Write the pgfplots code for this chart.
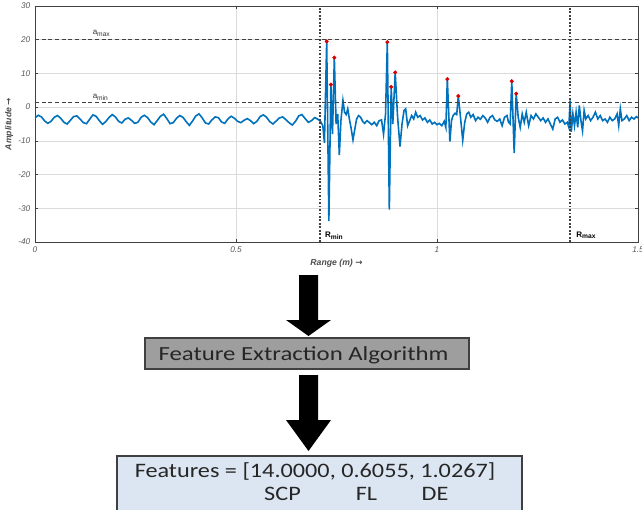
\documentclass[border=0pt]{standalone}
\usepackage{fontspec}
\setmainfont{Liberation Sans}
\newfontfamily\carlito{Carlito}
\newfontfamily\dejavu{DejaVu Sans}
\usepackage{graphicx}
\usepackage{pgfplots}
\usepackage{pgfplotstable}
\pgfplotsset{compat=1.18}
\definecolor{mblue}{RGB}{0,114,189}
\definecolor{boxgray}{RGB}{158,158,158}
\definecolor{boxblue}{RGB}{220,230,242}
\definecolor{edge}{RGB}{64,64,64}

\pgfplotstableread{
x y
0.000 -3.2
0.008 -2.4
0.016 -2.9
0.024 -4.1
0.032 -4.8
0.040 -4.2
0.048 -3.0
0.056 -2.5
0.064 -3.3
0.072 -4.5
0.080 -5.0
0.088 -3.9
0.096 -2.8
0.104 -2.6
0.112 -3.5
0.120 -4.6
0.128 -4.9
0.136 -3.6
0.144 -2.3
0.152 -2.7
0.160 -4.0
0.168 -5.1
0.176 -4.3
0.184 -3.1
0.192 -2.2
0.200 -2.9
0.208 -4.2
0.216 -4.7
0.224 -3.6
0.232 -3.2
0.240 -3.9
0.248 -4.8
0.256 -4.5
0.264 -3.0
0.272 -2.4
0.280 -3.1
0.288 -4.4
0.296 -5.2
0.304 -4.0
0.312 -2.7
0.320 -2.1
0.328 -3.4
0.336 -4.9
0.344 -4.6
0.352 -3.3
0.360 -2.5
0.368 -3.0
0.376 -4.3
0.384 -5.4
0.392 -4.1
0.400 -2.6
0.408 -2.0
0.416 -3.2
0.424 -4.7
0.432 -5.0
0.440 -3.8
0.448 -2.9
0.456 -3.1
0.464 -4.4
0.472 -4.8
0.480 -3.5
0.488 -2.7
0.496 -3.3
0.504 -4.2
0.512 -4.6
0.520 -3.9
0.528 -3.4
0.536 -4.0
0.544 -4.9
0.552 -4.2
0.560 -2.8
0.568 -2.3
0.576 -3.0
0.584 -4.3
0.592 -5.0
0.600 -4.1
0.608 -3.2
0.616 -2.9
0.624 -3.7
0.632 -4.6
0.640 -5.3
0.648 -4.2
0.656 -2.6
0.664 -2.2
0.672 -3.4
0.680 -4.5
0.688 -4.0
0.696 -3.1
0.704 -3.6
0.710 -4.2
0.716 -5.5
0.720 -10.6
0.7256 19.5
0.731 -33.8
0.736 6.7
0.740 -8.0
0.7446 14.7
0.749 -5.0
0.753 -2.0
0.757 -14.2
0.761 -4.0
0.766 2.0
0.770 -1.5
0.774 -2.2
0.778 -0.5
0.782 -3.5
0.786 -6.0
0.791 -9.7
0.796 -6.2
0.800 -3.5
0.805 -2.5
0.810 -3.0
0.815 -4.2
0.820 -4.8
0.826 -4.0
0.832 -4.6
0.838 -5.2
0.844 -4.5
0.850 -5.5
0.856 -4.0
0.862 -3.8
0.867 -8.0
0.872 -2.0
0.8764 19.3
0.8814 -30.4
0.886 6.0
0.890 -5.0
0.896 10.3
0.902 -3.0
0.908 -11.7
0.913 -5.0
0.918 -1.0
0.922 -0.5
0.927 -5.5
0.932 -4.0
0.937 -2.5
0.942 -3.5
0.947 -1.5
0.952 -3.0
0.958 -2.5
0.964 -3.8
0.970 -3.2
0.976 -4.5
0.982 -3.8
0.988 -5.0
0.994 -4.5
1.000 -5.2
1.006 -4.8
1.012 -5.5
1.018 -4.2
1.022 -6.0
1.0257 8.3
1.032 -10.2
1.036 -4.0
1.040 -2.5
1.045 -1.8
1.049 -2.2
1.053 3.3
1.058 -2.5
1.064 -9.8
1.069 -4.5
1.074 -2.0
1.079 -1.5
1.084 -3.0
1.090 -2.2
1.096 -4.0
1.102 -3.0
1.108 -3.6
1.114 -2.5
1.120 -3.2
1.126 -4.5
1.132 -3.0
1.138 -2.5
1.144 -3.8
1.150 -4.2
1.156 -3.5
1.162 -5.5
1.168 -3.0
1.174 -2.5
1.178 -4.5
1.182 -5.0
1.186 7.7
1.192 -13.6
1.197 4.0
1.202 -3.0
1.207 -6.0
1.212 -2.0
1.217 -4.5
1.222 -1.5
1.228 -5.5
1.234 -2.5
1.240 -3.5
1.246 -2.0
1.252 -3.0
1.258 -4.0
1.264 -3.2
1.270 -4.5
1.276 -3.5
1.282 -5.0
1.288 -6.5
1.294 -3.5
1.300 -3.0
1.306 -4.5
1.312 -3.8
1.318 -5.0
1.324 -4.5
1.328 -6.0
1.331 2.0
1.334 -7.3
1.338 -2.0
1.342 -5.5
1.346 -1.5
1.350 -6.0
1.354 0.5
1.358 -4.0
1.362 -7.0
1.366 -1.0
1.370 -3.5
1.376 -2.5
1.382 -4.0
1.388 -3.0
1.394 -1.5
1.400 -3.5
1.406 -2.5
1.412 -4.0
1.418 -3.5
1.424 -4.5
1.430 -3.0
1.436 -4.0
1.442 -3.5
1.448 -2.0
1.452 -5.5
1.456 -0.5
1.460 -4.0
1.466 -3.5
1.472 -2.5
1.478 -4.0
1.484 -3.0
1.490 -3.5
1.496 -2.8
1.500 -3.2
}\signal

\pgfplotstableread{
x y
0.7256 19.5
0.736 6.7
0.7446 14.7
0.8764 19.3
0.886 6.0
0.896 10.3
1.0257 8.3
1.053 3.3
1.186 7.7
1.197 4.0
}\peaks

\begin{document}
\begin{tikzpicture}
\begin{axis}[
  at={(26.25pt,-181.5pt)}, anchor=south west,
  scale only axis, width=452.25pt, height=177pt,
  xmin=0, xmax=1.5, ymin=-40, ymax=30,
  xtick={0,0.5,1,1.5}, ytick={-40,-30,...,30},
  grid=major, major grid style={draw=black!14, line width=0.4pt},
  tick align=inside, major tick length=2.5pt,
  axis line style={draw=black!75, line width=0.7pt},
  tick style={draw=black!75, line width=0.5pt},
  xtick pos=both, ytick pos=both,
  every tick label/.append style={font=\fontsize{6.2}{7}\selectfont\itshape, text=black!65},
  /pgf/number format/assume math mode=true,
  xticklabel style={/pgf/number format/fixed},
  xlabel={Range (m) {\dejavu →}},
  ylabel={Amplitude {\dejavu →}},
  label style={font=\fontsize{6.5}{8}\selectfont\bfseries\itshape, text=black!70},
  xlabel style={yshift=2pt},
  ylabel style={yshift=-3pt},
  clip=true,
]
\addplot[mblue, line width=1.2pt] table[x=x,y=y] {\signal};
\addplot[black!75, line width=0.9pt, dash pattern=on 3pt off 2pt] coordinates {(0,20) (1.5,20)};
\addplot[black!75, line width=0.9pt, dash pattern=on 3pt off 2pt] coordinates {(0,1.4) (1.5,1.4)};
\addplot[black!75, line width=1.1pt, dash pattern=on 1.3pt off 1.3pt] coordinates {(0.709,-40) (0.709,30)};
\addplot[black!75, line width=1.1pt, dash pattern=on 1.3pt off 1.3pt] coordinates {(1.331,-40) (1.331,30)};
\addplot[only marks, mark=*, mark size=1.3pt, color=red!85!black] table[x=x,y=y] {\peaks};
\node[anchor=base west, inner sep=0pt, font=\fontsize{6}{7}\selectfont, text=black!80] at (axis cs:0.143,21.4) {a\textsubscript{max}};
\node[anchor=base west, inner sep=0pt, font=\fontsize{6}{7}\selectfont, text=black!80] at (axis cs:0.143,2.6) {a\textsubscript{min}};
\node[anchor=base west, inner sep=0pt, font=\fontsize{6}{7}\selectfont\bfseries, text=black] at (axis cs:0.721,-38.6) {R\textsubscript{min}};
\node[anchor=base west, inner sep=0pt, font=\fontsize{6}{7}\selectfont\bfseries, text=black] at (axis cs:1.346,-38.6) {R\textsubscript{max}};
\end{axis}
\begin{scope}[x=0.75pt,y=-0.75pt]
\fill[black] (299,275) -- (318,275) -- (318,320) -- (331,320) -- (308.5,336) -- (286,320) -- (299,320) -- cycle;
\draw[edge, line width=1.1pt, fill=boxgray] (145,338) rectangle (469,369);
\node[anchor=base, inner sep=0pt, font=\carlito\fontsize{15}{18}\selectfont, text=black!85] at (303.5,360) {\scalebox{1.24}[1]{Feature Extraction Algorithm}};
\fill[black] (299,375) -- (318,375) -- (318,420) -- (331,420) -- (308.5,451) -- (286,420) -- (299,420) -- cycle;
\draw[edge, line width=1.1pt, fill=boxblue] (117,456) rectangle (522,530);
\node[anchor=base, inner sep=0pt, font=\carlito\fontsize{15.4}{18}\selectfont, text=black!85] at (315,477.3) {\scalebox{1.18}[1]{Features = [14.0000, 0.6055, 1.0267]}};
\node[anchor=base, inner sep=0pt, font=\carlito\fontsize{15.4}{18}\selectfont, text=black!85] at (282.5,500.7) {\scalebox{1.18}[1]{SCP}};
\node[anchor=base, inner sep=0pt, font=\carlito\fontsize{15.4}{18}\selectfont, text=black!85] at (366.5,500.7) {\scalebox{1.18}[1]{FL}};
\node[anchor=base, inner sep=0pt, font=\carlito\fontsize{15.4}{18}\selectfont, text=black!85] at (435,500.7) {\scalebox{1.18}[1]{DE}};
\pgfresetboundingbox
\path[use as bounding box] (0,0) rectangle (642,510);
\end{scope}
\end{tikzpicture}
\end{document}
